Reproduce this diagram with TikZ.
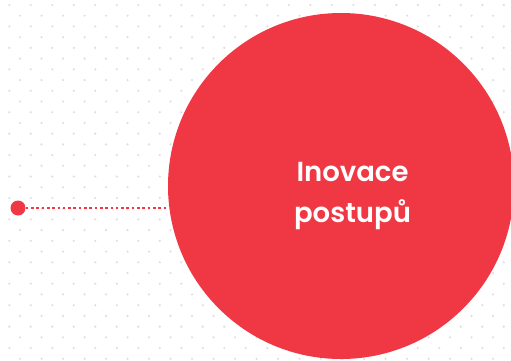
\documentclass[tikz,border=0pt]{standalone}
\usepackage{fontspec}
\setmainfont{Poppins}[BoldFont={Poppins SemiBold}]
\definecolor{brandred}{RGB}{240,56,69}
\definecolor{gridgray}{RGB}{222,222,222}
\tikzset{
  griddot/.style={fill=gridgray, draw=none},
  bigdisc/.style={circle, fill=brandred, draw=none, minimum size=346pt, inner sep=0pt},
  enddot/.style={circle, fill=brandred, draw=none, minimum size=15pt, inner sep=0pt},
  dotline/.style={brandred, line width=2pt, dash pattern=on 2.6pt off 2.7pt},
  title/.style={text=white, align=center, font=\bfseries\fontsize{27.5}{41}\selectfont}
}
\begin{document}
\begin{tikzpicture}[x=1pt, y=-1pt]
            \useasboundingbox (0,0) rectangle (511,360);
            \clip (0,0) rectangle (511,360);
            % Staggered grid of light dots in the background
            \foreach \r in {0,...,33} {
              \pgfmathsetmacro{\off}{mod(\r,2) * 10.75}
              \foreach \c in {0,...,23} {
                \fill [griddot] (9.3 + \off + \c * 21.5, 5 + \r * 10.72) circle (1.2);
              }
            }
            % The big disc and its caption
            \node [bigdisc] (bigcircle) at (341,186) {};
            \node [title] (caption) at (352.5,196) {Inovace\\postupů};
            % Small dot with the dotted connector
            \node [enddot] (startdot) at (18,208) {};
            \draw [dotline] (startdot.east) -- (startdot -| bigcircle.west);
        \end{tikzpicture}
\end{document}
